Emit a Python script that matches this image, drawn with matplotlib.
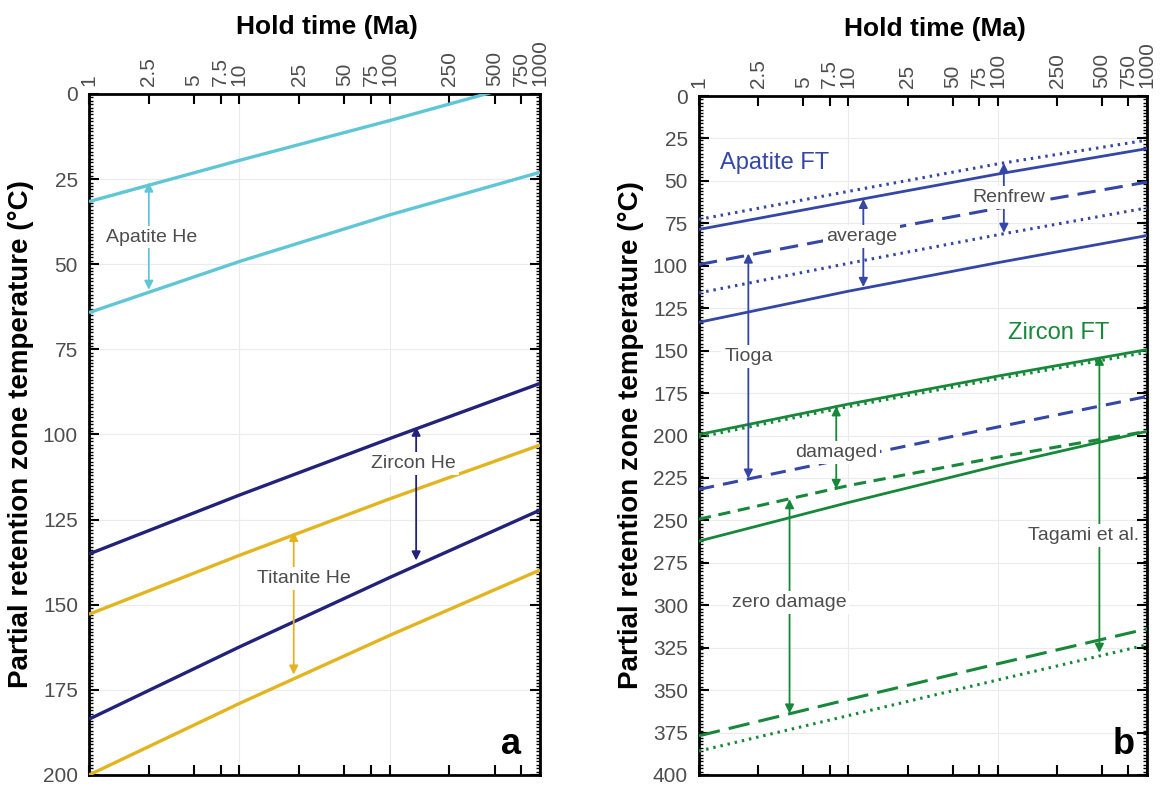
import matplotlib
matplotlib.use('Agg')
import matplotlib.pyplot as plt
from matplotlib.ticker import FixedLocator, MultipleLocator, NullFormatter

plt.rcParams['font.family'] = ['Liberation Sans', 'DejaVu Sans']

hold_t = [1, 10, 100, 1000]
tick_vals = [1, 2.5, 5, 7.5, 10, 25, 50, 75, 100, 250, 500, 750, 1000]
tick_labels = ['1', '2.5', '5', '7.5', '10', '25', '50', '75', '100', '250', '500', '750', '1000']
grid_t = [10, 100]

# panel a: He partial retention zones (deg C)
ahe_top = [31.6, 19.5, 7.8, -4.4]
ahe_bot = [64.2, 49.2, 35.5, 23.0]
zhe_top = [135.1, 117.8, 101.2, 85.0]
zhe_bot = [183.6, 162.4, 142.0, 122.2]
the_top = [152.8, 135.5, 118.9, 103.1]
the_bot = [200.0, 179.0, 159.0, 139.8]

# panel b: fission track partial annealing zones (deg C)
aft_dot_top = [72.7, 56.2, 40.0, 26.0]
aft_sol_top = [78.6, 62.2, 46.0, 31.0]
aft_dash_top = [99.3, 82.5, 66.2, 50.7]
aft_dot_bot = [116.0, 98.6, 81.8, 65.9]
aft_sol_bot = [133.3, 115.0, 98.2, 82.2]
aft_dash_bot = [231.7, 213.3, 195.0, 177.0]
zft_sol_top = [199.4, 181.5, 165.0, 149.4]
zft_dot_top = [201.0, 183.0, 166.6, 151.0]
zft_dash_top = [249.3, 229.5, 212.8, 197.5]
zft_sol_bot = [262.2, 239.5, 217.8, 197.5]
zft_dash_bot = [376.9, 355.5, 334.5, 313.9]
zft_dot_bot = [385.9, 365.0, 344.0, 323.3]

# range arrows: (hold time, upper temp, lower temp)
arrows_a = {'ahe': (2.5, 26.0, 57.5), 'zhe': (150, 97.7, 137.0), 'the': (23, 128.6, 170.5)}
arrows_b = {'average': (12.6, 60.6, 112.5), 'renfrew': (110, 39.5, 80.6),
            'tioga': (2.14, 92.8, 225.4), 'damaged': (8.3, 182.8, 231.5),
            'zero': (4.04, 237.5, 363.8), 'tagami': (480, 153.0, 328.0)}

C_AHE = '#5fc6d6'
C_ZHE = '#22227a'
C_THE = '#e2b420'
C_AFT = '#3446a6'
C_ZFT = '#17883a'
C_TXT = '#4d4d4d'

fig = plt.figure(figsize=(11.61, 7.86), dpi=100)
ax_a = fig.add_axes([89 / 1161, 11 / 786, 451 / 1161, 681 / 786])
ax_b = fig.add_axes([699 / 1161, 11 / 786, 448 / 1161, 679 / 786])


def setup_axes(ax, ymax, minor_step):
    ax.set_xscale('log')
    ax.set_xlim(1, 1000)
    ax.set_ylim(ymax, 0)
    ax.xaxis.set_major_locator(FixedLocator(tick_vals))
    ax.xaxis.set_minor_locator(FixedLocator([]))
    ax.set_xticklabels(tick_labels)
    ax.xaxis.set_minor_formatter(NullFormatter())
    ax.yaxis.set_major_locator(MultipleLocator(25))
    ax.yaxis.set_minor_locator(MultipleLocator(minor_step))
    ax.tick_params(axis='x', which='major', direction='in', top=True, bottom=True,
                   labeltop=True, labelbottom=False, length=7, width=1.5,
                   labelrotation=90, labelsize=15, labelcolor=C_TXT, pad=6)
    ax.tick_params(axis='y', which='major', direction='in', left=True, right=True,
                   length=7, width=1.5, labelsize=15, labelcolor=C_TXT, pad=8)
    ax.tick_params(axis='y', which='minor', direction='in', left=True, right=True,
                   length=3, width=1)
    ax.xaxis.set_label_position('top')
    ax.set_xlabel('Hold time (Ma)', fontsize=19, fontweight='bold')
    ax.xaxis.set_label_coords(0.527, 1.088)
    ax.set_ylabel('Partial retention zone temperature (°C)', fontsize=20,
                  fontweight='bold', labelpad=6)
    for s in ax.spines.values():
        s.set_linewidth(2)
    ax.grid(True, axis='y', which='major', color='#ebebeb', lw=0.8)
    for t in grid_t:
        ax.axvline(t, color='#ebebeb', lw=0.8, zorder=0)
    ax.set_axisbelow(True)


def range_arrow(ax, spec, color):
    x, y1, y2 = spec
    ax.annotate('', xy=(x, y2), xytext=(x, y1),
                arrowprops=dict(arrowstyle='<|-|>', color=color, lw=1.3,
                                mutation_scale=13, shrinkA=0, shrinkB=0), zorder=4)


def label(ax, x, y, s, color=C_TXT, size=14):
    ax.text(x, y, s, ha='center', va='center', fontsize=size, color=color, zorder=6,
            bbox=dict(boxstyle='square,pad=0.15', fc='white', ec='none'))


# ---- panel a
setup_axes(ax_a, 200, 1)
for vals, c in [(ahe_top, C_AHE), (ahe_bot, C_AHE), (zhe_top, C_ZHE),
                (zhe_bot, C_ZHE), (the_top, C_THE), (the_bot, C_THE)]:
    ax_a.plot(hold_t, vals, color=c, lw=2.4, solid_capstyle='butt', zorder=3)
range_arrow(ax_a, arrows_a['ahe'], C_AHE)
range_arrow(ax_a, arrows_a['zhe'], C_ZHE)
range_arrow(ax_a, arrows_a['the'], C_THE)
label(ax_a, 2.6, 42, 'Apatite He')
label(ax_a, 144, 108.5, 'Zircon He')
label(ax_a, 27, 142.3, 'Titanite He')
ax_a.text(640, 191, 'a', fontsize=26, fontweight='bold', ha='center', va='center')

# ---- panel b
setup_axes(ax_b, 400, 2)
dotted = (0, (0.8, 1.6))
ax_b.plot(hold_t, aft_dot_top, color=C_AFT, lw=2.2, ls=dotted, zorder=3)
ax_b.plot(hold_t, aft_sol_top, color=C_AFT, lw=2.0, zorder=3)
ax_b.plot(hold_t, aft_dash_top, color=C_AFT, lw=2.2, ls=(0, (6, 3)), zorder=3)
ax_b.plot(hold_t, aft_dot_bot, color=C_AFT, lw=2.2, ls=dotted, zorder=3)
ax_b.plot(hold_t, aft_sol_bot, color=C_AFT, lw=2.0, zorder=3)
ax_b.plot(hold_t, aft_dash_bot, color=C_AFT, lw=2.2, ls=(0, (5, 3)), zorder=3)
ax_b.plot(hold_t, zft_dot_top, color=C_ZFT, lw=2.2, ls=dotted, zorder=3)
ax_b.plot(hold_t, zft_sol_top, color=C_ZFT, lw=2.0, zorder=3)
ax_b.plot(hold_t, zft_dash_top, color=C_ZFT, lw=2.2, ls=(0, (4, 2.5)), zorder=3)
ax_b.plot(hold_t, zft_sol_bot, color=C_ZFT, lw=2.0, zorder=3)
ax_b.plot(hold_t, zft_dash_bot, color=C_ZFT, lw=2.2, ls=(0, (7, 3)), zorder=3)
ax_b.plot(hold_t, zft_dot_bot, color=C_ZFT, lw=2.2, ls=dotted, zorder=3)

for key in ['average', 'renfrew', 'tioga']:
    range_arrow(ax_b, arrows_b[key], C_AFT)
for key in ['damaged', 'zero', 'tagami']:
    range_arrow(ax_b, arrows_b[key], C_ZFT)

ax_b.text(3.2, 39.3, 'Apatite FT', fontsize=17, color=C_AFT, ha='center', va='center')
ax_b.text(257, 139.6, 'Zircon FT', fontsize=17, color=C_ZFT, ha='center', va='center')
label(ax_b, 12.2, 82.6, 'average')
label(ax_b, 118, 60, 'Renfrew')
label(ax_b, 2.14, 153.4, 'Tioga')
label(ax_b, 8.3, 210, 'damaged')
label(ax_b, 4.04, 298.6, 'zero damage')
label(ax_b, 375, 258.8, 'Tagami et al.')
ax_b.text(700, 381.8, 'b', fontsize=26, fontweight='bold', ha='center', va='center')

fig.savefig('out.png', dpi=100)
